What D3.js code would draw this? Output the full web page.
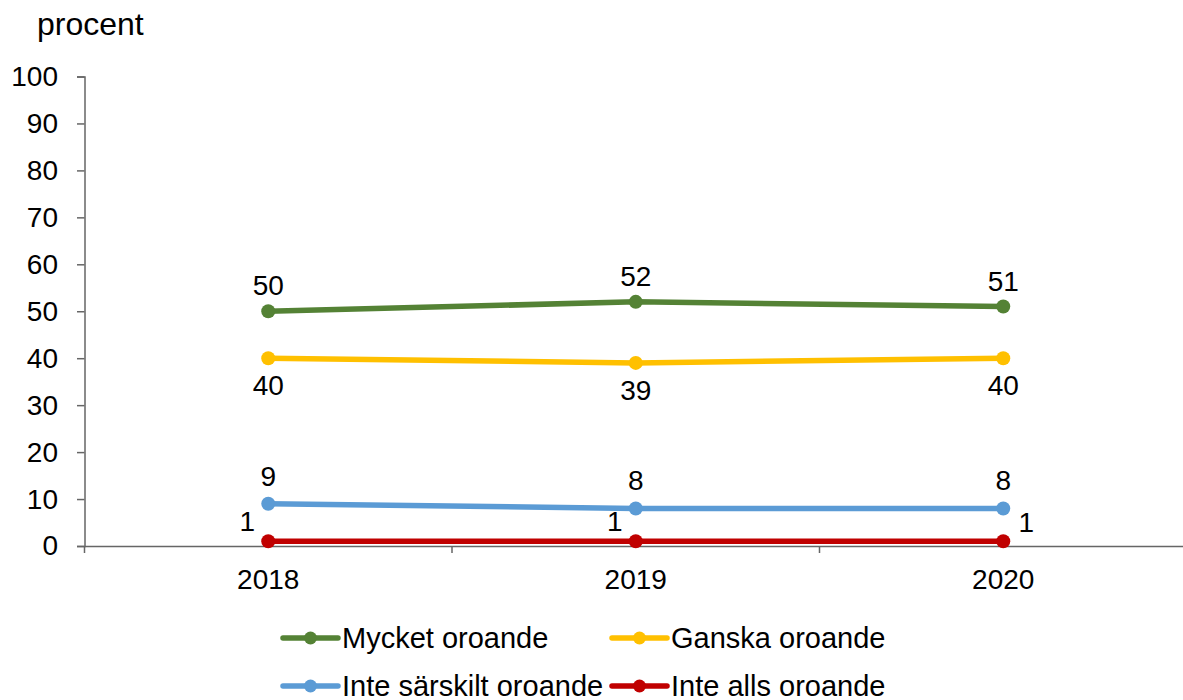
<!DOCTYPE html>
<html>
<head>
<meta charset="utf-8">
<script src="https://cdn.jsdelivr.net/npm/d3@7"></script>
<style>
  body { margin: 0; background: #fff; }
  text { font-family: "Liberation Sans", Arial, sans-serif; fill: #000; }
</style>
</head>
<body>
<svg id="chart" width="1183" height="700"></svg>
<script>
// data
const years = ["2018", "2019", "2020"];
const seriesNames = ["Mycket oroande", "Ganska oroande", "Inte särskilt oroande", "Inte alls oroande"];
const mycket = [50, 52, 51];
const ganska = [40, 39, 40];
const inteSarskilt = [9, 8, 8];
const inteAlls = [1, 1, 1];
const yTicks = [0, 10, 20, 30, 40, 50, 60, 70, 80, 90, 100];

const colors = ["#548235", "#FFC000", "#5B9BD5", "#C00000"];
const seriesValues = [mycket, ganska, inteSarskilt, inteAlls];

// label offsets (dx, dy to baseline) per series and point
const labelPos = [
  [[0, -16], [0, -16], [0, -16]],
  [[0, 37], [0, 37], [0, 37]],
  [[0, -18], [0, -18], [0, -18]],
  [[-21, -10], [-21, -10], [23, -9]],
];

const svg = d3.select("#chart");
const plotLeft = 84.5;
const plotTop = 76.5;
const plotBottom = 546;
const fs = "28px";

const x = d3.scaleBand().domain(years).range([plotLeft, 1187]);
const y = d3.scaleLinear().domain([0, 100]).range([plotBottom, plotTop]);

// y axis
const yAxis = svg.append("g").attr("transform", `translate(${plotLeft},0)`)
  .call(d3.axisLeft(y).tickValues(yTicks).tickSize(7.5).tickPadding(19));
yAxis.select(".domain").attr("stroke", "#666").attr("stroke-width", 1.5);
yAxis.selectAll(".tick line").attr("stroke", "#666").attr("stroke-width", 1.5);
yAxis.selectAll(".tick text").style("font-size", fs).style("font-family", "Liberation Sans, Arial, sans-serif").attr("fill", "#000");

// x axis
const xAxis = svg.append("g").attr("transform", `translate(0,${plotBottom})`)
  .call(d3.axisBottom(x).tickSize(0).tickPadding(23));
xAxis.select(".domain").attr("stroke", "#666").attr("stroke-width", 1.5);
xAxis.selectAll(".tick text").style("font-size", fs).style("font-family", "Liberation Sans, Arial, sans-serif").attr("fill", "#000");
// tick marks on category boundaries
svg.append("g").selectAll("line")
  .data(years)
  .join("line")
  .attr("x1", d => x(d)).attr("x2", d => x(d))
  .attr("y1", plotBottom).attr("y2", plotBottom + 7)
  .attr("stroke", "#666").attr("stroke-width", 1.5);

// y title
svg.append("text").attr("x", 37).attr("y", 35).style("font-size", "32px").text("procent");

const cx = d => x(d) + x.bandwidth() / 2;
const line = d3.line().x((d, i) => cx(years[i])).y(d => y(d));

seriesValues.forEach((vals, s) => {
  const g = svg.append("g");
  g.append("path").datum(vals)
    .attr("d", line)
    .attr("fill", "none")
    .attr("stroke", colors[s])
    .attr("stroke-width", 5.5);
  g.selectAll("circle").data(vals).join("circle")
    .attr("cx", (d, i) => cx(years[i]))
    .attr("cy", d => y(d))
    .attr("r", 7)
    .attr("fill", colors[s]);
  g.selectAll("text").data(vals).join("text")
    .attr("x", (d, i) => cx(years[i]) + labelPos[s][i][0])
    .attr("y", (d, i) => y(d) + labelPos[s][i][1])
    .attr("text-anchor", "middle")
    .style("font-size", fs)
    .text(d => d);
});

// legend
const legendItems = [
  { x: 283, y: 638 }, { x: 612, y: 638 },
  { x: 283, y: 686 }, { x: 612, y: 686 },
];
seriesNames.forEach((name, s) => {
  const p = legendItems[s];
  const g = svg.append("g").attr("transform", `translate(${p.x},${p.y})`);
  g.append("line").attr("x1", 0).attr("x2", 55).attr("y1", 0).attr("y2", 0)
    .attr("stroke", colors[s]).attr("stroke-width", 5.5).attr("stroke-linecap", "round");
  g.append("circle").attr("cx", 27.5).attr("cy", 0).attr("r", 6.5).attr("fill", colors[s]);
  g.append("text").attr("x", 59).attr("y", 0).attr("dy", "0.35em")
    .style("font-size", "29px").text(name);
});
</script>
</body>
</html>
